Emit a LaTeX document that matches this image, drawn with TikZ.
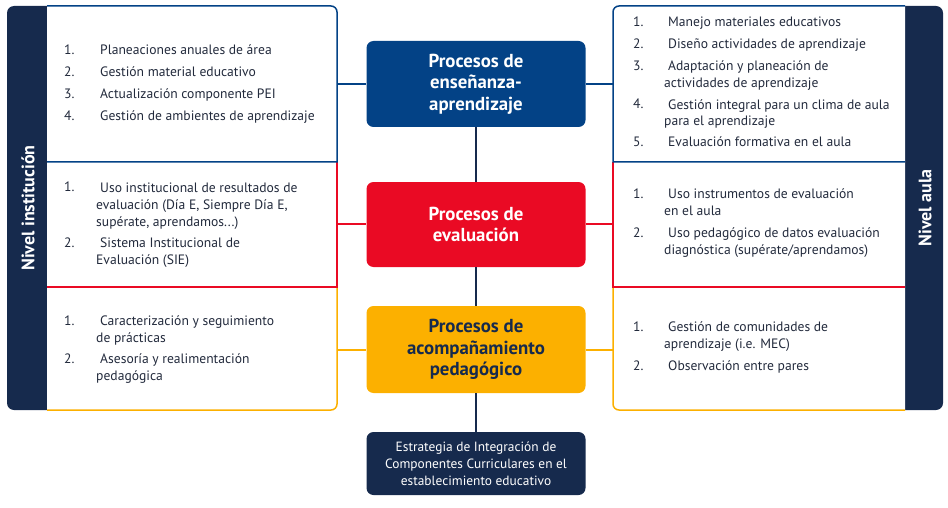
\documentclass[tikz,border=0pt]{standalone}
\usepackage{fontspec}
\setmainfont{PT Sans}
\definecolor{cblue}{HTML}{034286}
\definecolor{cred}{HTML}{EA0A24}
\definecolor{cyel}{HTML}{FCB000}
\definecolor{cnavy}{HTML}{162A4D}
\definecolor{ctext}{HTML}{222A3C}
\begin{document}
\begin{tikzpicture}[x=1pt,y=-1pt,
  num/.style={anchor=base west,inner sep=0,text=ctext,font=\fontsize{13.6}{17}\selectfont},
  itxt/.style={anchor=base west,inner sep=0,text=ctext,align=left,font=\fontsize{13.6}{17}\selectfont},
  proc/.style={rounded corners=7pt,minimum width=219pt,inner sep=0,align=center,font=\bfseries\fontsize{18.8}{21.5}\selectfont},
  lvl/.style={rotate=90,text=white,inner sep=0,font=\bfseries\fontsize{18}{20}\selectfont},
  bl/.style={draw=cblue,line width=1.5pt},
  rl/.style={draw=cred,line width=1.5pt},
  yl/.style={draw=cyel,line width=1.5pt},
  nl/.style={draw=cnavy,line width=1.5pt}]
\useasboundingbox (0,0) rectangle (948,508);
% left panel
\fill[cnavy,rounded corners=7pt] (7,6) rectangle (60,410);
\fill[white] (47,6) -- (331,6) arc[start angle=-90,end angle=0,radius=6] -- (337,404) arc[start angle=0,end angle=90,radius=6] -- (47,410) -- cycle;
\draw[yl] (337,287) -- (337,404) arc[start angle=0,end angle=90,radius=6] -- (47,410);
\draw[rl] (337,162) -- (337,287) -- (47,287);
\draw[bl] (47,6) -- (331,6) arc[start angle=-90,end angle=0,radius=6] -- (337,162) -- (47,162);
\node[lvl] (nivinst) at (28,208) {Nivel institución};
% right panel
\fill[cnavy,rounded corners=7pt] (890,6) rectangle (943,410);
\fill[white] (905,6) -- (619,6) arc[start angle=-90,end angle=-180,radius=6] -- (613,404) arc[start angle=180,end angle=90,radius=6] -- (905,410) -- cycle;
\draw[yl] (613,287) -- (613,404) arc[start angle=180,end angle=90,radius=6] -- (905,410);
\draw[rl] (613,162) -- (613,287) -- (905,287);
\draw[bl] (905,6) -- (619,6) arc[start angle=-90,end angle=-180,radius=6] -- (613,162) -- (905,162);
\node[lvl] (nivaula) at (925,208) {Nivel aula};
% center boxes
\node[proc,fill=cblue,text=white,minimum height=86pt] (b1) at (476,84) {Procesos de\\enseñanza-\\aprendizaje};
\node[proc,fill=cred,text=white,minimum height=85pt] (b2) at (476,224.5) {Procesos de\\evaluación};
\node[proc,fill=cyel,text=cnavy,minimum height=87pt] (b3) at (476,349.5) {Procesos de\\acompañamiento\\pedagógico};
\node[rounded corners=7pt,fill=cnavy,text=white,minimum width=219pt,minimum height=63pt,inner sep=0,align=center,font=\fontsize{13.4}{17}\selectfont] (b4) at (476,463.5) {Estrategia de Integración de\\Componentes Curriculares en el\\establecimiento educativo};
% connectors
\coordinate (L1) at (337,84);
\coordinate (R1) at (613,84);
\coordinate (L2) at (337,224);
\coordinate (R2) at (613,224);
\coordinate (L3) at (337,350);
\coordinate (R3) at (613,350);
\draw[bl] (L1) -- (b1.west);
\draw[bl] (b1.east) -- (R1);
\draw[rl] (L2) -- (L2 -| b2.west);
\draw[rl] (R2 -| b2.east) -- (R2);
\draw[yl] (L3) -- (L3 -| b3.west);
\draw[yl] (R3 -| b3.east) -- (R3);
\draw[nl] (b1.south) -- (b2.north);
\draw[nl] (b2.south) -- (b3.north);
\draw[nl] (b3.south) -- (b4.north);
% left items (multi-line nodes placed at the baseline of their last line)
\node[num] (lt1n) at (64,55) {1.};
\node[itxt] (lt1) at (96,55) {\hspace*{4pt}Planeaciones anuales de área};
\node[num] (lt2n) at (64,77) {2.};
\node[itxt] (lt2) at (96,77) {\hspace*{4pt}Gestión material educativo};
\node[num] (lt3n) at (64,99) {3.};
\node[itxt] (lt3) at (96,99) {\hspace*{4pt}Actualización componente PEI};
\node[num] (lt4n) at (64,121) {4.};
\node[itxt] (lt4) at (96,121) {\hspace*{4pt}Gestión de ambientes de aprendizaje};
\node[num] (lm1n) at (64,192) {1.};
\node[itxt] (lm1) at (96,226) {\hspace*{4pt}Uso institucional de resultados de\\evaluación (Día E, Siempre Día E,\\supérate, aprendamos...)};
\node[num] (lm2n) at (64,247) {2.};
\node[itxt] (lm2) at (96,264) {\hspace*{4pt}Sistema Institucional de\\Evaluación (SIE)};
\node[num] (lb1n) at (64,325) {1.};
\node[itxt] (lb1) at (96,342) {\hspace*{4pt}Caracterización y seguimiento\\de prácticas};
\node[num] (lb2n) at (64,363) {2.};
\node[itxt] (lb2) at (96,380) {\hspace*{4pt}Asesoría y realimentación\\pedagógica};
% right items
\node[num] (rt1n) at (633,27) {1.};
\node[itxt] (rt1) at (664,27) {\hspace*{4pt}Manejo materiales educativos};
\node[num] (rt2n) at (633,49) {2.};
\node[itxt] (rt2) at (664,49) {\hspace*{4pt}Diseño actividades de aprendizaje};
\node[num] (rt3n) at (633,71) {3.};
\node[itxt] (rt3) at (664,88) {\hspace*{4pt}Adaptación y planeación de\\actividades de aprendizaje};
\node[num] (rt4n) at (633,109) {4.};
\node[itxt] (rt4) at (664,126) {\hspace*{4pt}Gestión integral para un clima de aula\\para el aprendizaje};
\node[num] (rt5n) at (633,147) {5.};
\node[itxt] (rt5) at (664,147) {\hspace*{4pt}Evaluación formativa en el aula};
\node[num] (rm1n) at (633,198) {1.};
\node[itxt] (rm1) at (664,215) {\hspace*{4pt}Uso instrumentos de evaluación\\en el aula};
\node[num] (rm2n) at (633,237) {2.};
\node[itxt] (rm2) at (664,254) {\hspace*{4pt}Uso pedagógico de datos evaluación\\diagnóstica (supérate/aprendamos)};
\node[num] (rb1n) at (633,331) {1.};
\node[itxt] (rb1) at (664,348) {\hspace*{4pt}Gestión de comunidades de\\aprendizaje (i.e. MEC)};
\node[num] (rb2n) at (633,370) {2.};
\node[itxt] (rb2) at (664,370) {\hspace*{4pt}Observación entre pares};
\end{tikzpicture}
\end{document}
